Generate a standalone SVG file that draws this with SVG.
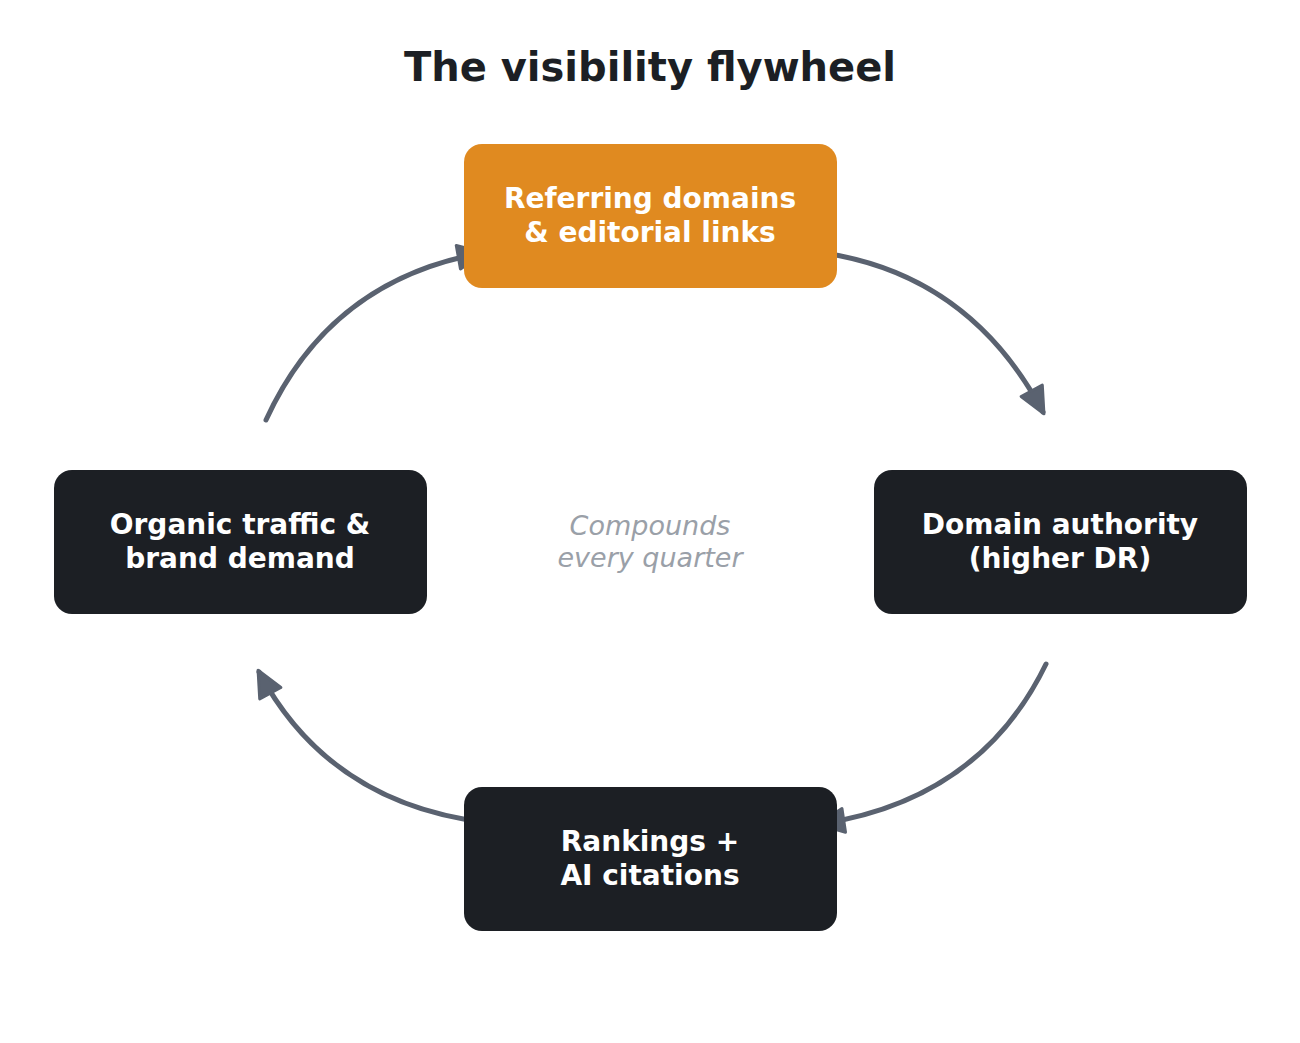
<svg xmlns="http://www.w3.org/2000/svg" width="1300" height="1043" viewBox="0 0 1300 1043">
<style>
.t{font-family:"DejaVu Sans",sans-serif;font-weight:bold;fill:#fff;font-size:28px;text-anchor:middle}
.c{fill:none;stroke:#5a6270;stroke-width:5;stroke-linecap:round}
</style>
<defs>
<marker id="a" markerUnits="userSpaceOnUse" markerWidth="40" markerHeight="40" refX="26" refY="14" orient="auto">
<path d="M2,2 L28,14 L2,26 Z" fill="#5a6270" stroke="#5a6270" stroke-width="3" stroke-linejoin="round"/>
</marker>
</defs>
<rect width="1300" height="1043" fill="#fff"/>
<text x="650" y="81" font-family="DejaVu Sans,sans-serif" font-weight="bold" font-size="40" fill="#1c1f24" text-anchor="middle">The visibility flywheel</text>
<g id="connectors">
<path class="c" d="M824,253 Q970,275 1043,412" marker-end="url(#a)"/>
<path class="c" d="M1046,664 Q980,800 820,824" marker-end="url(#a)"/>
<path class="c" d="M490,823 Q330,805 259,672" marker-end="url(#a)"/>
<path class="c" d="M266,420 Q330,280 482,253" marker-end="url(#a)"/>
</g>
<g id="n-ref"><rect x="464" y="144" width="373" height="144" rx="18" fill="#e08a20"/>
<text class="t" x="650" y="208">Referring domains</text><text class="t" x="650" y="242">&amp; editorial links</text></g>
<g id="n-da"><rect x="874" y="470" width="373" height="144" rx="18" fill="#1c1f24"/>
<text class="t" x="1060" y="534">Domain authority</text><text class="t" x="1060" y="568">(higher DR)</text></g>
<g id="n-rank"><rect x="464" y="787" width="373" height="144" rx="18" fill="#1c1f24"/>
<text class="t" x="650" y="851">Rankings +</text><text class="t" x="650" y="885">AI citations</text></g>
<g id="n-org"><rect x="54" y="470" width="373" height="144" rx="18" fill="#1c1f24"/>
<text class="t" x="240" y="534">Organic traffic &amp;</text><text class="t" x="240" y="568">brand demand</text></g>
<g id="center" font-family="DejaVu Sans,sans-serif" font-style="italic" font-size="27" fill="#9aa0a8" text-anchor="middle">
<text x="650" y="535">Compounds</text><text x="650" y="567">every quarter</text></g>
</svg>
